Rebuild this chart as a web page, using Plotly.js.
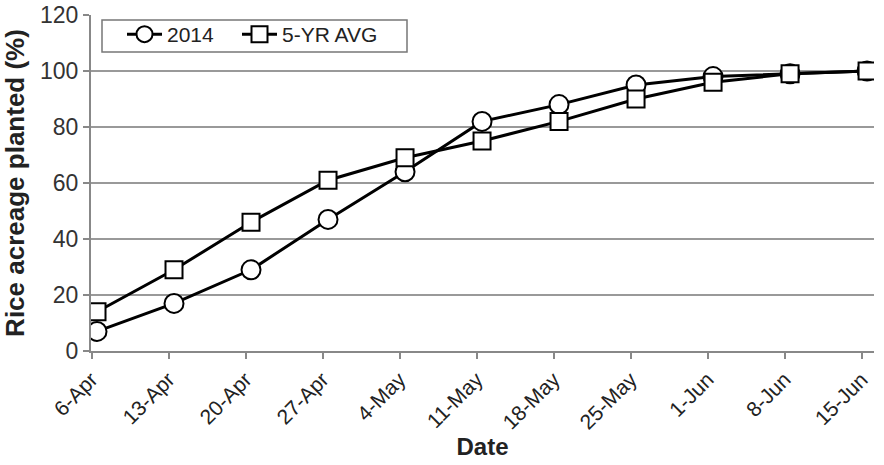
<!DOCTYPE html>
<html><head><meta charset="utf-8">
<script src="https://cdn.plot.ly/plotly-3.0.1.min.js"></script>
<style>body{margin:0;background:#fff}#c{width:884px;height:465px}</style>
</head><body><div id="c"></div>
<script>
const dates = ["6-Apr","13-Apr","20-Apr","27-Apr","4-May","11-May","18-May","25-May","1-Jun","8-Jun","15-Jun"];
const y2014 = [7,17,29,47,64,82,88,95,98,99,100];
const yAvg = [14,29,46,61,69,75,82,90,96,99,100];
const names = ["2014","5-YR AVG"];

const idx = dates.map((d,i)=>i);
const tickOffset = -0.07;
const mk = (sym,s)=>({symbol:sym,size:s,color:"#fff",line:{color:"#000",width:2}});
const traces = [
  {x:idx,y:y2014,name:names[0],legend:"legend",mode:"lines+markers",line:{color:"#000",width:3},marker:mk("circle",19)},
  {x:idx,y:yAvg,name:names[1],legend:"legend2",mode:"lines+markers",line:{color:"#000",width:3},marker:mk("square",17)}
];
const legBase = {y:1.003,xanchor:"left",yanchor:"top",orientation:"h",
  borderwidth:0,bgcolor:"rgba(0,0,0,0)",font:{size:21,color:"#222"},itemwidth:35};
const layout = {
  width:884,height:465,
  margin:{l:91,r:10,t:15,b:114},
  paper_bgcolor:"#fff",plot_bgcolor:"#fff",
  font:{family:"Liberation Sans, Arial, sans-serif",color:"#333"},
  showlegend:true,
  legend:Object.assign({},legBase,{x:(122-91)/783}),
  legend2:Object.assign({},legBase,{x:(237-91)/783}),
  shapes:[{type:"rect",xref:"paper",yref:"paper",x0:(102-91)/783,x1:(407-91)/783,
    y0:(351-52)/336,y1:(351-20)/336,line:{color:"#777",width:1.5},fillcolor:"#fff",layer:"above"}],
  xaxis:{range:[-0.078,10.09],tickmode:"array",tickvals:idx.map(i=>i+tickOffset),ticktext:dates,
    tickangle:-45,tickfont:{size:21,color:"#222"},showgrid:false,zeroline:false,
    showline:true,linecolor:"#888",linewidth:2,ticks:"outside",ticklen:6,tickwidth:2,tickcolor:"#888",
    title:{text:"Date",font:{size:24,color:"#222",weight:"bold"},standoff:6}},
  yaxis:{range:[0,120],tickvals:[0,20,40,60,80,100,120],tickfont:{size:23,color:"#333"},
    showgrid:true,gridcolor:"#999",gridwidth:2,zeroline:false,
    showline:true,linecolor:"#888",linewidth:2,ticks:"outside",ticklen:6,tickwidth:2,tickcolor:"#888",
    title:{text:"Rice acreage planted (%)",font:{size:26,color:"#222",weight:"bold"},standoff:8}}
};
Plotly.newPlot("c",traces,layout,{displayModeBar:false,staticPlot:true});
</script></body></html>
